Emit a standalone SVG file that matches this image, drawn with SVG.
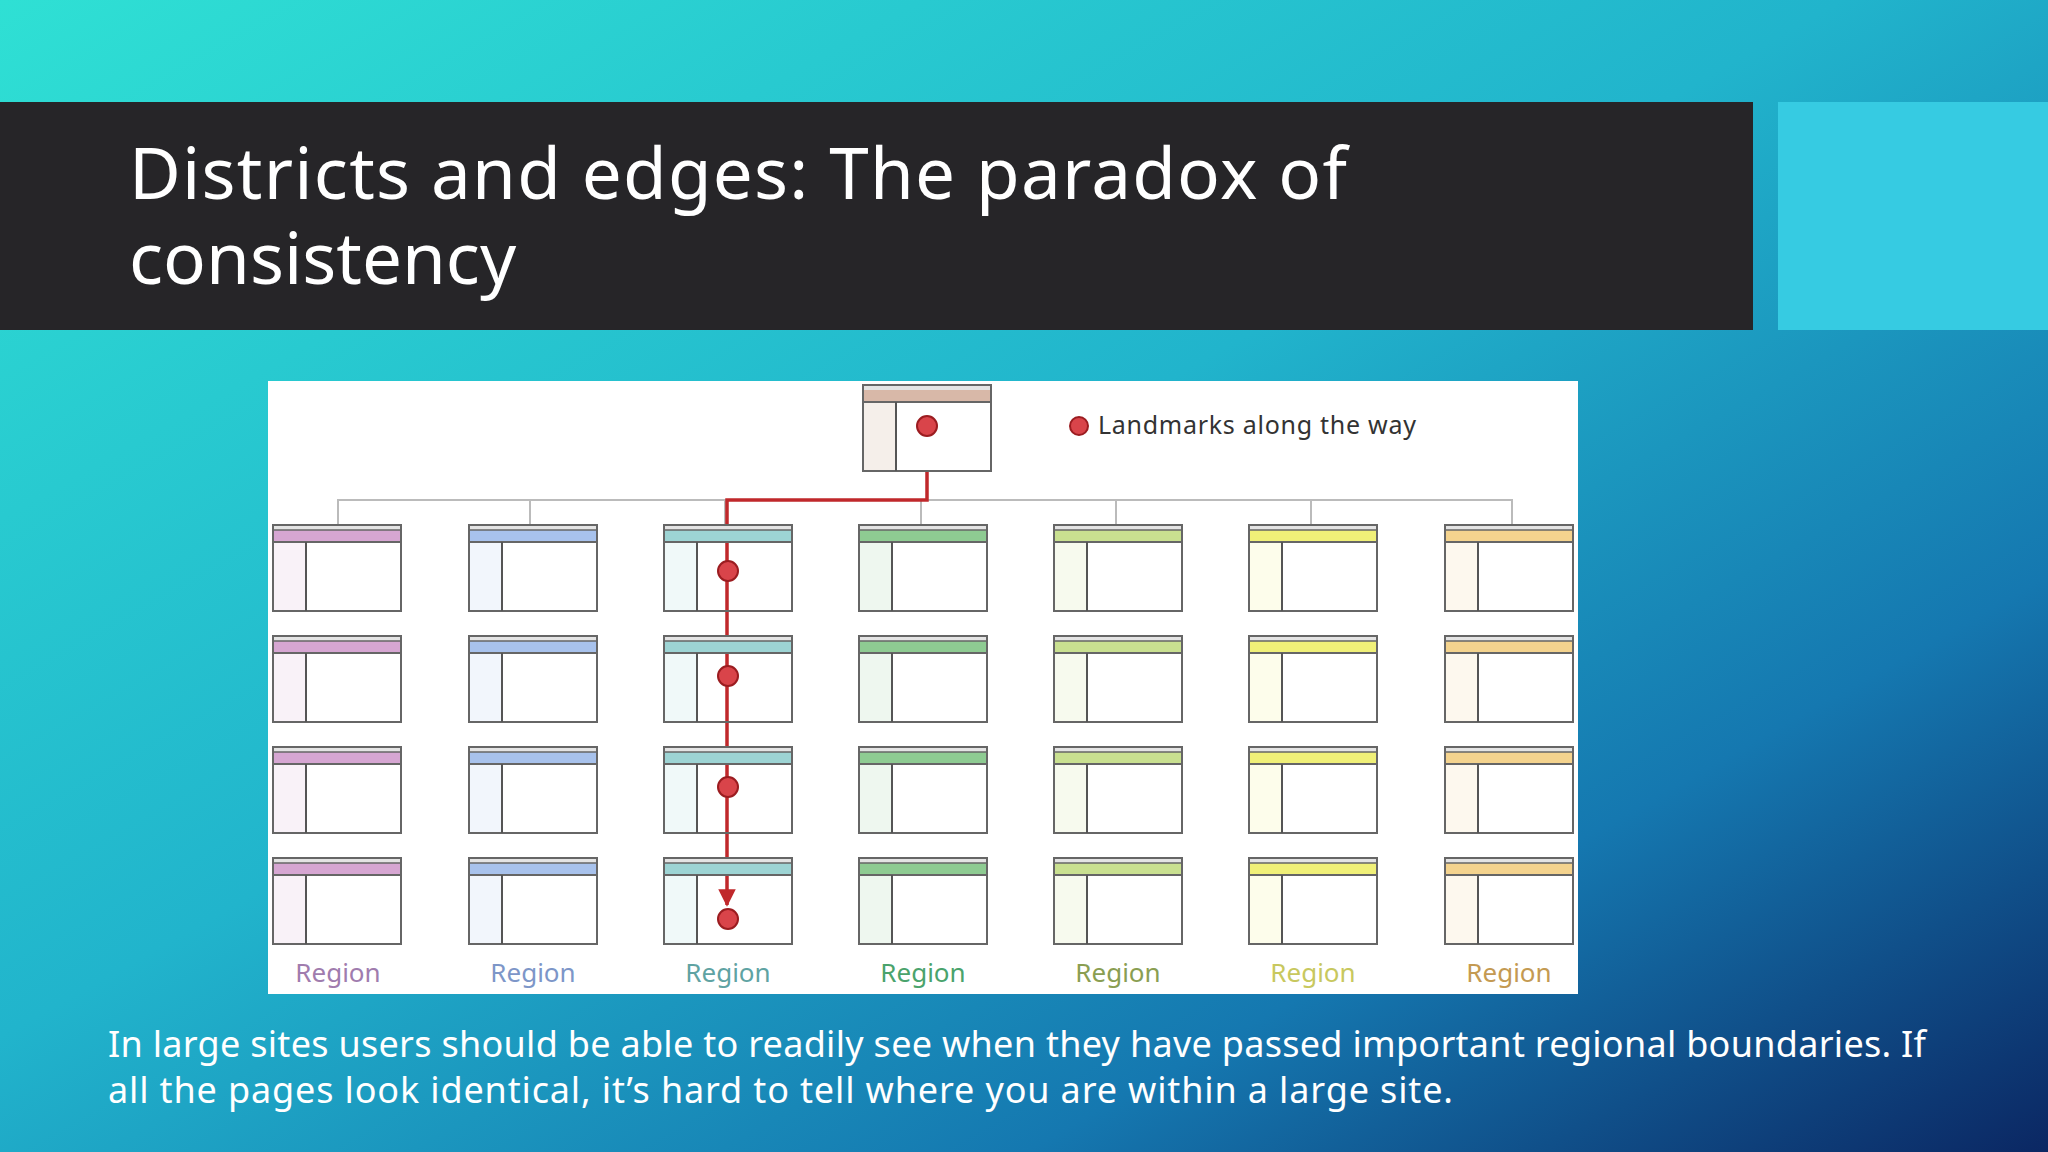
<svg xmlns="http://www.w3.org/2000/svg" width="2048" height="1152" viewBox="0 0 2048 1152">
<defs>
<linearGradient id="bg" x1="0" y1="0" x2="1" y2="1">
<stop offset="0" stop-color="#2fe0d4"/>
<stop offset="0.45" stop-color="#21b4cc"/>
<stop offset="0.75" stop-color="#1578b0"/>
<stop offset="1" stop-color="#0b2763"/>
</linearGradient>
<g id="page">
<rect x="0" y="0" width="128" height="5" fill="#e4e4e4"/>
<rect x="0" y="5" width="128" height="12" fill="currentColor"/>
<rect x="0" y="17" width="33" height="69" fill="currentColor" opacity="0.15"/>
<rect x="0" y="0" width="128" height="86" fill="none" stroke="#666" stroke-width="2"/>
<line x1="0" y1="5" x2="128" y2="5" stroke="#666" stroke-width="1.5"/>
<line x1="0" y1="17" x2="128" y2="17" stroke="#666" stroke-width="2"/>
<line x1="33" y1="17" x2="33" y2="86" stroke="#555" stroke-width="2"/>
</g>
<marker id="arr" viewBox="0 0 10 10" refX="9" refY="5" markerWidth="5" markerHeight="5" orient="auto"><path d="M0,0L10,5L0,10z" fill="#c0282b"/></marker>
</defs>
<style>
.lbl{font-family:"Noto Sans","Liberation Sans",sans-serif;font-size:26px;text-anchor:middle}
.dot{fill:#d9444a;stroke:#9b1c20;stroke-width:2}
</style>
<rect width="2048" height="1152" fill="url(#bg)"/>
<g id="title">
<rect x="0" y="102" width="1753" height="228" fill="#262528"/>
<text font-family="'Noto Sans','Open Sans',sans-serif" font-size="71" fill="#ffffff"><tspan x="129" y="199" textLength="1218">Districts and edges: The paradox of</tspan><tspan x="129" y="284">consistency</tspan></text>
</g>
<rect id="accent" x="1778" y="102" width="270" height="228" fill="#36cbe2"/>
<g id="figure">
<rect x="268" y="381" width="1310" height="613" fill="#ffffff"/>
<g id="connectors" fill="none">
<path d="M338,524V500H1512V524 M530,500V524 M725,500V524 M921,500V524 M1116,500V524 M1311,500V524" stroke="#bbbbbb" stroke-width="2"/>
<path d="M927,426V500H727V905" stroke="#c0282b" stroke-width="3.5" marker-end="url(#arr)"/>
</g>
<g id="top">
<rect x="863" y="385" width="128" height="86" fill="#fff"/>
<rect x="863" y="385" width="128" height="5" fill="#e4e4e4"/>
<rect x="863" y="390" width="128" height="12" fill="#d8b8a8"/>
<rect x="863" y="402" width="33" height="69" fill="#f5efea"/>
<rect x="863" y="385" width="128" height="86" fill="none" stroke="#666" stroke-width="2"/>
<line x1="863" y1="402" x2="991" y2="402" stroke="#666" stroke-width="2"/>
<line x1="896" y1="402" x2="896" y2="471" stroke="#555" stroke-width="2"/>
<circle class="dot" cx="927" cy="426" r="10"/>
</g>
<g id="legend">
<circle class="dot" cx="1079" cy="426" r="9"/>
<text x="1098" y="434" font-family="'Noto Sans','Liberation Sans',sans-serif" font-size="25" fill="#333" textLength="318">Landmarks along the way</text>
</g>
<g id="col1" color="#d6a6d2"><use href="#page" x="273" y="525"/><use href="#page" x="273" y="636"/><use href="#page" x="273" y="747"/><use href="#page" x="273" y="858"/><text class="lbl" x="338" y="982" fill="#a07cae">Region</text></g>
<g id="col2" color="#a8c2ec"><use href="#page" x="469" y="525"/><use href="#page" x="469" y="636"/><use href="#page" x="469" y="747"/><use href="#page" x="469" y="858"/><text class="lbl" x="533" y="982" fill="#7d96c8">Region</text></g>
<g id="col3" color="#9dd4d4"><use href="#page" x="664" y="525"/><use href="#page" x="664" y="636"/><use href="#page" x="664" y="747"/><use href="#page" x="664" y="858"/><text class="lbl" x="728" y="982" fill="#5fa3a3">Region</text></g>
<g id="col4" color="#8ecb92"><use href="#page" x="859" y="525"/><use href="#page" x="859" y="636"/><use href="#page" x="859" y="747"/><use href="#page" x="859" y="858"/><text class="lbl" x="923" y="982" fill="#4aa36c">Region</text></g>
<g id="col5" color="#c9e090"><use href="#page" x="1054" y="525"/><use href="#page" x="1054" y="636"/><use href="#page" x="1054" y="747"/><use href="#page" x="1054" y="858"/><text class="lbl" x="1118" y="982" fill="#8a9e52">Region</text></g>
<g id="col6" color="#f0f078"><use href="#page" x="1249" y="525"/><use href="#page" x="1249" y="636"/><use href="#page" x="1249" y="747"/><use href="#page" x="1249" y="858"/><text class="lbl" x="1313" y="982" fill="#c8c85e">Region</text></g>
<g id="col7" color="#f4d38e"><use href="#page" x="1445" y="525"/><use href="#page" x="1445" y="636"/><use href="#page" x="1445" y="747"/><use href="#page" x="1445" y="858"/><text class="lbl" x="1509" y="982" fill="#c49a52">Region</text></g>
<g id="landmarks">
<circle class="dot" cx="728" cy="571" r="10"/>
<circle class="dot" cx="728" cy="676" r="10"/>
<circle class="dot" cx="728" cy="787" r="10"/>
<circle class="dot" cx="728" cy="919" r="10"/>
</g>
</g>
<g id="caption" font-family="'Noto Sans','Open Sans',sans-serif" font-size="36" fill="#ffffff">
<text x="108" y="1057" textLength="1818">In large sites users should be able to readily see when they have passed important regional boundaries. If</text>
<text x="108" y="1103" textLength="1345">all the pages look identical, it’s hard to tell where you are within a large site.</text>
</g>
</svg>
